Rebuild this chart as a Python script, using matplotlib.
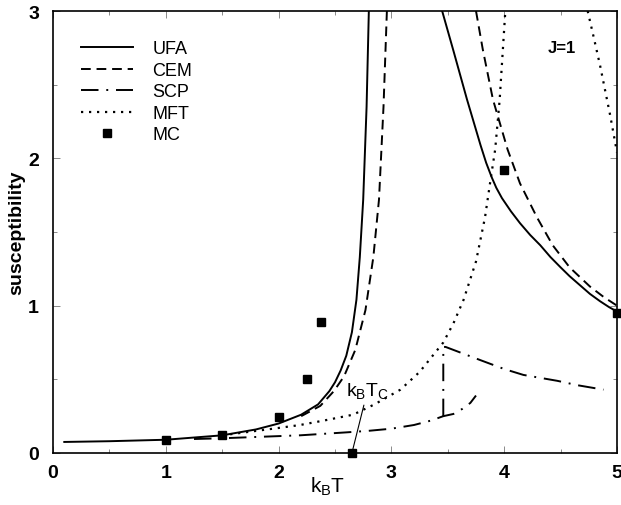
import matplotlib
matplotlib.use("Agg")
import matplotlib.pyplot as plt

plt.rcParams['font.family'] = ['Liberation Sans', 'DejaVu Sans']
plt.rcParams['mathtext.fontset'] = 'custom'
plt.rcParams['mathtext.rm'] = 'Liberation Sans'
plt.rcParams['mathtext.it'] = 'Liberation Sans'
plt.rcParams['mathtext.bf'] = 'Liberation Sans:bold'

# ---- data ----
ufa_low_T = [0.1, 0.5, 1.0, 1.5, 1.8, 2.0, 2.2, 2.35, 2.45, 2.5, 2.55, 2.6, 2.65, 2.69, 2.72, 2.75, 2.78, 2.80]
ufa_low_chi = [0.075, 0.08, 0.09, 0.12, 0.16, 0.2, 0.26, 0.33, 0.42, 0.48, 0.56, 0.66, 0.82, 1.04, 1.33, 1.72, 2.35, 3.0]
ufa_high_T = [3.45, 3.55, 3.67, 3.79, 3.84, 3.89, 3.93, 3.98, 4.06, 4.14, 4.23, 4.32, 4.41, 4.50, 4.58, 4.67, 4.76, 4.85, 4.93, 5.0]
ufa_high_chi = [3.0, 2.73, 2.40, 2.09, 1.97, 1.87, 1.80, 1.73, 1.64, 1.56, 1.48, 1.41, 1.33, 1.26, 1.20, 1.14, 1.08, 1.03, 0.99, 0.96]

cem_low_T = [2.2, 2.37, 2.49, 2.58, 2.68, 2.77, 2.84, 2.89, 2.93, 2.96]
cem_low_chi = [0.25, 0.32, 0.42, 0.52, 0.7, 0.97, 1.33, 1.72, 2.35, 3.0]
cem_high_T = [3.75, 3.81, 3.90, 4.03, 4.14, 4.29, 4.43, 4.58, 4.76, 4.88, 5.0]
cem_high_chi = [3.0, 2.74, 2.40, 2.06, 1.83, 1.60, 1.41, 1.26, 1.13, 1.06, 1.0]

scp_low_T = [1.25, 1.5, 1.84, 2.19, 2.6, 2.79, 3.0, 3.2, 3.35, 3.46, 3.55, 3.63, 3.7, 3.75]
scp_low_chi = [0.095, 0.1, 0.11, 0.12, 0.14, 0.15, 0.165, 0.19, 0.22, 0.25, 0.265, 0.30, 0.34, 0.39]
scp_high_T = [3.46, 3.46, 3.48, 3.79, 4.0, 4.17, 4.47, 4.65, 4.88]
scp_high_chi = [0.25, 0.72, 0.72, 0.63, 0.57, 0.53, 0.49, 0.46, 0.43]

mft_low_T = [1.5, 1.8, 2.0, 2.19, 2.4, 2.66, 2.85, 3.08, 3.25, 3.46, 3.55, 3.64, 3.75, 3.83, 3.88, 3.92, 3.96, 4.01]
mft_low_chi = [0.12, 0.15, 0.17, 0.19, 0.22, 0.26, 0.33, 0.43, 0.55, 0.75, 0.88, 1.04, 1.3, 1.6, 1.86, 2.06, 2.40, 3.0]
mft_high_T = [4.74, 4.8, 4.85, 4.94, 5.0]
mft_high_chi = [3.0, 2.8, 2.63, 2.29, 2.04]

mc_T = [1.0, 1.5, 2.0, 2.25, 2.38, 4.0, 5.0]
mc_chi = [0.09, 0.12, 0.245, 0.50, 0.89, 1.92, 0.95]

tc_T = [2.65]
tc_chi = [0.0]

x_ticks = [0, 1, 2, 3, 4, 5]
y_ticks = [0, 1, 2, 3]

# ---- figure ----
fig = plt.figure(figsize=(6.21, 5.06), dpi=100)
ax = fig.add_axes([53/621, 52/506, 564/621, 442/506])

lw = 1.4
ax.plot(ufa_low_T, ufa_low_chi, color='black', lw=lw, ls='-', label='UFA')
ax.plot(ufa_high_T, ufa_high_chi, color='black', lw=lw, ls='-')
ax.plot(cem_low_T, cem_low_chi, color='black', lw=lw, ls=(0, (5, 3)), label='CEM')
ax.plot(cem_high_T, cem_high_chi, color='black', lw=lw, ls=(0, (5, 3)))
dashdot = (0, (9, 4, 1, 4))
ax.plot(scp_low_T, scp_low_chi, color='black', lw=lw, ls=dashdot, label='SCP')
ax.plot(scp_high_T, scp_high_chi, color='black', lw=lw, ls=dashdot)
ax.plot(mft_low_T, mft_low_chi, color='black', lw=1.6, ls=(0, (1, 2.6)), label='MFT')
ax.plot(mft_high_T, mft_high_chi, color='black', lw=1.6, ls=(0, (1, 2.6)))
ax.plot(mc_T, mc_chi, ls='none', marker='s', ms=6, color='black', label='MC', clip_on=False)
ax.plot(tc_T, tc_chi, ls='none', marker='s', ms=6, color='black', clip_on=False)

ax.annotate(r'$\mathrm{k_BT_C}$', xy=(tc_T[0], tc_chi[0]), xytext=(2.6, 0.43),
            fontsize=14, ha='left', va='center',
            arrowprops=dict(arrowstyle='-', color='black', lw=0.8, shrinkA=2, shrinkB=0))

ax.text(4.51, 2.75, 'J=1', fontsize=12, fontweight='bold', ha='center', va='center')

ax.set_xlim(0, 5)
ax.set_ylim(0, 3)
ax.set_xticks(x_ticks)
ax.set_yticks(y_ticks)
ax.set_xticks([0.5, 1.5, 2.5, 3.5, 4.5], minor=True)
ax.set_yticks([0.5, 1.5, 2.5], minor=True)
ax.tick_params(which='both', direction='in', top=True, right=True, width=0.6, color='#777777')
ax.tick_params(which='major', length=5, labelsize=14)
ax.tick_params(axis='x', which='major', pad=8)
ax.tick_params(axis='y', which='major', pad=10)
ax.tick_params(which='minor', length=3)
for lab in ax.get_xticklabels() + ax.get_yticklabels():
    lab.set_fontweight('bold')
for s in ax.spines.values():
    s.set_linewidth(1.2)

ax.set_xlabel(r'$\mathrm{k_BT}$', fontsize=15)
ax.xaxis.set_label_coords((328-53)/564, -0.05)
ax.set_ylabel('susceptibility', fontsize=14, fontweight='bold', labelpad=2)

leg = ax.legend(loc='upper left', bbox_to_anchor=(0.037, 0.95), frameon=False, fontsize=13,
                handlelength=2.9, handletextpad=1.05, labelspacing=0.25, borderaxespad=0)

fig.savefig('out.png', dpi=100)
